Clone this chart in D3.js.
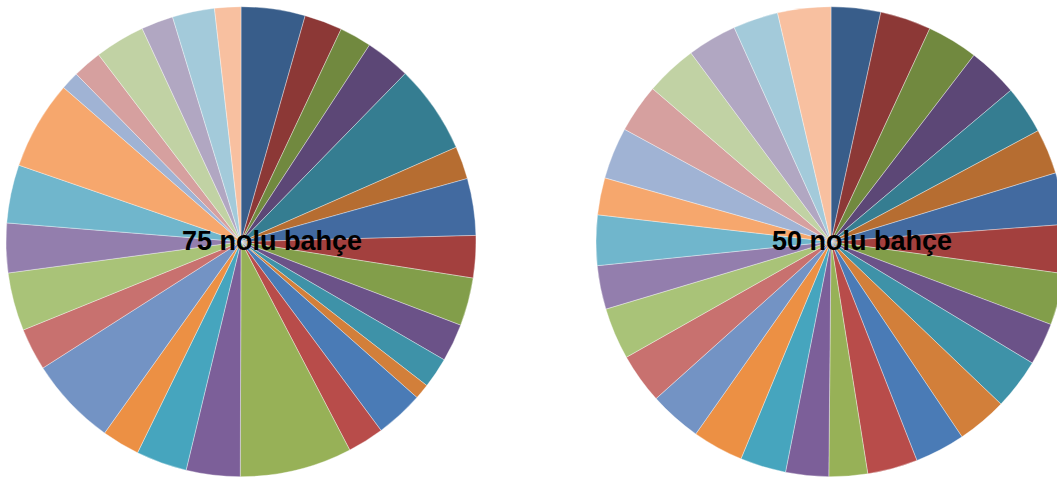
<!DOCTYPE html>
<html>
<head>
<meta charset="utf-8">
<script src="https://cdn.jsdelivr.net/npm/d3@7"></script>
<style>
  html, body { margin: 0; padding: 0; background: #fff; overflow: hidden; }
  .title { font-family: "Liberation Sans", Arial, sans-serif; font-weight: 700; font-size: 27px; fill: #000; }
</style>
</head>
<body>
<svg id="chart"></svg>
<script>
// 30 slices per garden, shares in percent
const slices = d3.range(1, 31).map(d => "Dilim " + d);

const bahce75 = [4.4, 2.6, 2.2, 3.1, 6.1, 2.25, 3.9, 2.9, 3.3, 2.6,
                 2.1, 1.05, 3.3, 2.5, 7.7, 3.7, 3.5, 2.6, 6.1, 2.9,
                 4.0, 3.4, 4.0, 6.1, 1.25, 2.0, 3.45, 2.2, 2.9, 1.8];

const bahce50 = [3.4, 3.5, 3.5, 3.45, 3.3, 3.1, 3.55, 3.35, 3.55, 2.9,
                 3.5, 3.45, 3.45, 3.45, 2.65, 2.95, 3.15, 3.5, 3.6, 3.45,
                 3.55, 3.0, 3.45, 2.55, 3.55, 3.35, 3.55, 3.4, 3.1, 3.65];

const titles = ["75 nolu bahçe", "50 nolu bahçe"];

const palette = [
  "#385d8a", "#8c3836", "#71893f", "#5c4776", "#357d91", "#b66d31",
  "#426aa0", "#a3403e", "#829e4a", "#6b5288", "#3e92a8", "#d27f3a",
  "#4a7bb6", "#b84c4a", "#97b157", "#7c5f99", "#46a5be", "#ec9044",
  "#7393c4", "#c8716f", "#a9c378", "#937ead", "#70b6cc", "#f6a76d",
  "#a0b3d4", "#d6a09f", "#c1d2a4", "#b1a7c2", "#a3cada", "#f8c0a0"
];

const width = 1057, height = 479;
const radius = 235;
const centers = [{x: 241, y: 241.7}, {x: 831, y: 241.7}];

const svg = d3.select("#chart")
  .attr("width", width)
  .attr("height", height);

const color = d3.scaleOrdinal().domain(slices).range(palette);

const pie = d3.pie().sort(null).value(d => d.value);
const arc = d3.arc().innerRadius(0).outerRadius(radius);

[bahce75, bahce50].forEach((values, i) => {
  let data = values.map((v, j) => ({name: slices[j], value: v}));

  let g = svg.append("g")
    .attr("transform", `translate(${centers[i].x},${centers[i].y})`);

  g.selectAll("path")
    .data(pie(data))
    .join("path")
      .attr("d", arc)
      .attr("fill", d => color(d.data.name))
      .attr("stroke", "#fff")
      .attr("stroke-opacity", 0.6)
      .attr("stroke-width", 0.6);

  g.append("text")
    .attr("class", "title")
    .attr("x", -59)
    .attr("y", 8.5)
    .text(titles[i]);
});
</script>
</body>
</html>
